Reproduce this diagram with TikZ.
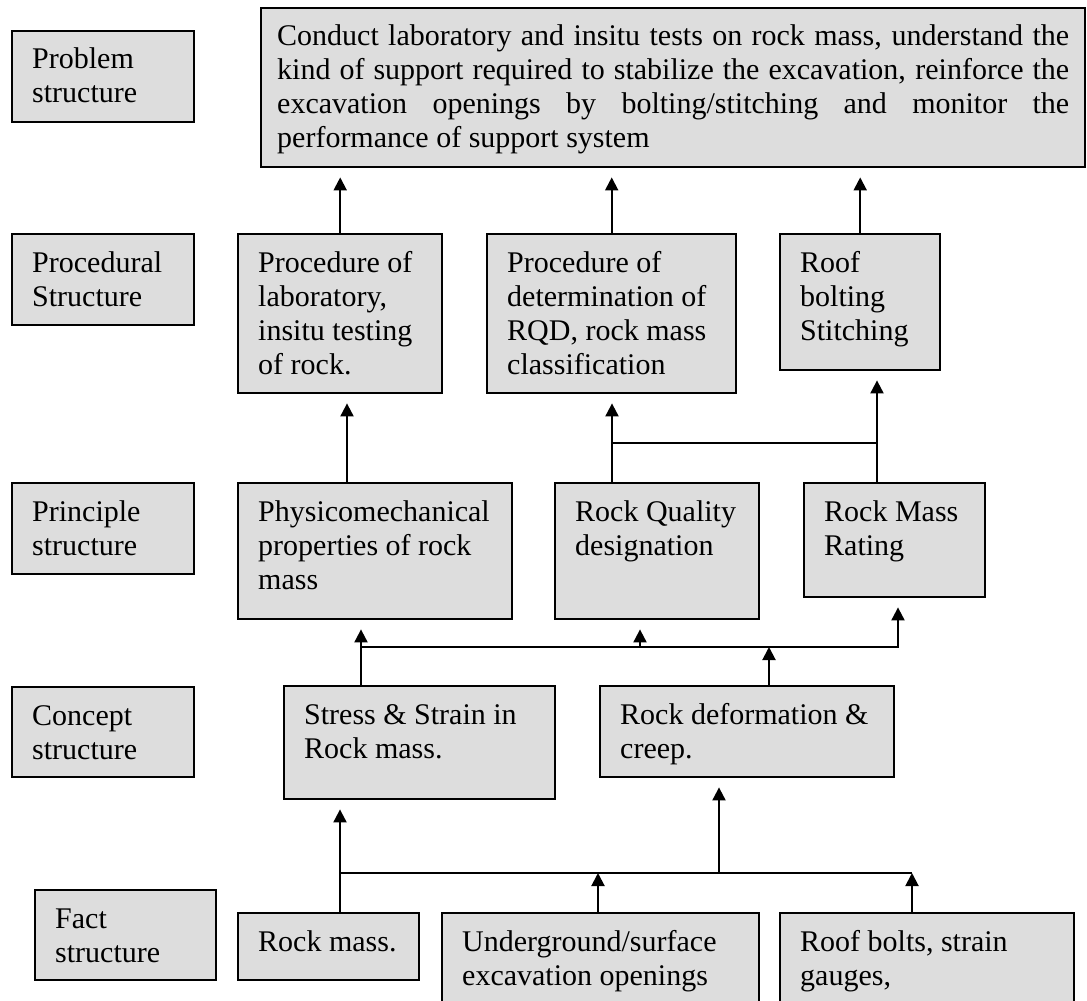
\documentclass[tikz,border=0pt]{standalone}
\usepackage{fontspec}
\setmainfont{Liberation Serif}
\usetikzlibrary{arrows.meta}
\definecolor{boxgray}{RGB}{221,221,221}
\newcommand{\boxtext}[3]{\parbox[t][#2][t]{#1}{\raggedright\strut#3}}

\begin{document}
\begin{tikzpicture}[x=0.5pt, y=-0.5pt]
        \tikzset{stage/.style={draw, fill=boxgray, line width=1.2pt, anchor=north west,
                 inner xsep=10pt, inner ysep=7pt, font=\fontsize{15}{17}\selectfont}}
        \tikzset{arr/.style={line width=1pt, -{Triangle[length=6.5pt, width=6.5pt]}, shorten >=4.5pt}}
        \clip (0,0) rectangle (1087,1001);
        % level names
        \node [stage] (l1) at (11,30)  {\boxtext{71pt}{31.5pt}{Problem\\structure}};
        \node [stage] (l2) at (11,233) {\boxtext{71pt}{31.5pt}{Procedural\\Structure}};
        \node [stage] (l3) at (11,482) {\boxtext{71pt}{31.5pt}{Principle\\structure}};
        \node [stage] (l4) at (11,686) {\boxtext{71pt}{31pt}{Concept\\structure}};
        \node [stage] (l5) at (34,889) {\boxtext{70.5pt}{31pt}{Fact\\structure}};
        % problem
        \node [stage, inner xsep=8pt] (1) at (260,7) {\parbox[t][65.5pt][t]{396pt}{\strut
            Conduct laboratory and insitu tests on rock mass, understand the\linebreak
            kind of support required to stabilize the excavation, reinforce the\linebreak
            excavation openings by bolting/stitching and monitor the\linebreak
            performance of support system}};
        % procedures
        \node [stage] (2) at (237,233) {\boxtext{82pt}{65.5pt}{Procedure of\\laboratory,\\insitu testing\\of rock.}};
        \node [stage] (3) at (486,233) {\boxtext{104.5pt}{65.5pt}{Procedure of\\determination of\\RQD, rock mass\\classification}};
        \node [stage] (4) at (779,233) {\boxtext{60pt}{54pt}{Roof\\bolting\\Stitching}};
        % principles
        \node [stage] (5) at (237,482) {\boxtext{117pt}{54pt}{Physicomechanical\\properties of rock\\mass}};
        \node [stage] (6) at (554,482) {\boxtext{82pt}{54pt}{Rock Quality\\designation}};
        \node [stage] (7) at (803,482) {\boxtext{70.5pt}{43pt}{Rock Mass\\Rating}};
        % concepts
        \node [stage] (8) at (283,685) {\boxtext{115.5pt}{42.5pt}{Stress \& Strain in\\Rock mass.}};
        \node [stage] (9) at (599,685) {\boxtext{127pt}{31.5pt}{Rock deformation \&\\creep.}};
        % facts
        \node [stage] (10) at (237,912) {\boxtext{70.5pt}{19.5pt}{Rock mass.}};
        \node [stage] (11) at (441,912) {\boxtext{138.5pt}{46pt}{Underground/surface\\excavation openings}};
        \node [stage] (12) at (779,912) {\boxtext{127pt}{46pt}{Roof bolts, strain\\gauges,}};

        % procedures -> problem
        \draw [arr] (2.north) -- (2.north |- 1.south);
        \draw [arr] (3.north) -- (3.north |- 1.south);
        \draw [arr] (4.north) -- (4.north |- 1.south);
        % principles -> procedures
        \coordinate (k)  at ([xshift=55pt]5.north west);
        \coordinate (j1) at (612,443);
        \coordinate (j2) at (877,443);
        \draw [arr] (k) -- (k |- 2.south);
        \draw [arr] (6.north -| j1) -- (3.south -| j1);
        \draw [line width=1pt] (j1) -- (j2);
        \draw [arr] (7.north -| j2) -- (4.south -| j2);
        % concepts -> principles
        \coordinate (b1) at (361,647);
        \coordinate (b2) at (640,647);
        \coordinate (b3) at (769,647);
        \coordinate (b4) at (898,647);
        \draw [arr] (8.north -| b1) -- (5.south -| b1);
        \draw [arr] (b1) -- (b4) -- (7.south -| b4);
        \draw [arr] (b2) -- (6.south -| b2);
        \draw [arr, shorten >=0pt] (9.north -| b3) -- (b3);
        % facts -> concepts
        \coordinate (f1) at (340,873);
        \coordinate (f2) at (598,873);
        \coordinate (f3) at (719,873);
        \coordinate (f4) at (912,873);
        \draw [arr] (10.north -| f1) -- (8.south -| f1);
        \draw [line width=1pt] (f1) -- (f4);
        \draw [arr, shorten >=0pt] (11.north -| f2) -- (f2);
        \draw [arr, shorten >=0pt] (12.north -| f4) -- (f4);
        \draw [arr] (f3) -- (9.south -| f3);
    \end{tikzpicture}
\end{document}
